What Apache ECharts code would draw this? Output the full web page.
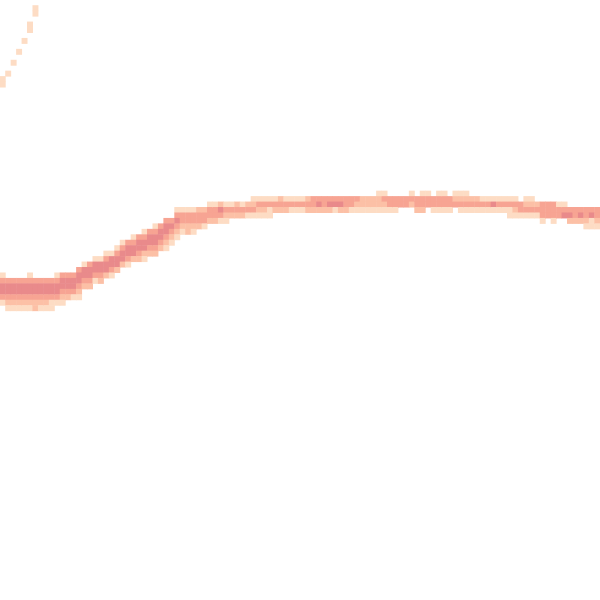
<!DOCTYPE html>
<html>
<head>
<meta charset="utf-8">
<script src="https://cdn.jsdelivr.net/npm/echarts@6/dist/echarts.min.js"></script>
<style>html,body{margin:0;padding:0;background:#fff}#c{width:600px;height:600px}</style>
</head>
<body>
<div id="c"></div>
<script>
// grid size (cells per side)
var gridSize = 110;
// main band: per column, the top row index and the cell levels going down (0 = empty)
var bandTop = [50,51,51,51,51,50,51,51,51,51,50,50,50,50,49,48,48,47,47,46,46,45,44,44,43,43,42,42,41,41,40,40,38,38,38,38,38,38,37,37,37,37,37,37,37,37,36,36,36,36,36,36,36,36,36,36,36,36,36,36,36,36,36,36,36,36,36,36,36,35,35,36,36,36,36,35,36,35,35,36,35,35,36,35,35,35,36,36,36,36,36,36,36,36,36,37,36,36,37,37,37,37,37,37,38,38,38,38,38,38];
var bandLevels = ["134431","344321","344321","344321","344321","1344321","344322","344321","344321","344311","134431","344321","34432","34431","344321","14432","34432","14431","14432","13442","14431","13442","13442","34431","13442","34432","134421","34432","134432","34432","344321","34321","134321","13321","13322","13321","2332","2331","1332","1332","2431","1321","132","232","132","231","1231","1321","1321","1311","132","232","132","131","131","131","232","332","342","332","342","341","342","332","331","321","221","221","221","1221","1321","331","331","33","33","132","332","1332","133","331","1331","1331","331","123","1231","1231","231","231","131","131","141","131","131","1311","1321","331","1231","1231","231","3331","333","3331","133","134","342","332","342","3321","3411","3321"];
// faint arc in the top-left corner
var arcCols = [0,1,2,3,4,5,6];
var arcTop = [14,13,11,9,7,4,1];
var arcLevels = ["11","1","1","1","1","11","11"];
var levelColors = ["#fddcc4","#fcc0a6","#f7a493","#e98a8b"];

var cells = [];
function addCells(cols, tops, levels) {
  for (var i = 0; i < cols.length; i++) {
    var s = levels[i];
    for (var k = 0; k < s.length; k++) {
      var v = +s.charAt(k);
      if (v > 0) cells.push([cols[i], tops[i] + k, v]);
    }
  }
}
var bandCols = [];
for (var i = 0; i < bandTop.length; i++) bandCols.push(i);
addCells(bandCols, bandTop, bandLevels);
addCells(arcCols, arcTop, arcLevels);

var cats = [];
for (var i = 0; i < gridSize; i++) cats.push(String(i));

var chart = echarts.init(document.getElementById('c'), null, {renderer: 'canvas'});
chart.setOption({
  animation: false,
  backgroundColor: '#ffffff',
  grid: {left: 0, right: 0, top: 0, bottom: 0},
  xAxis: {type: 'category', data: cats, show: false},
  yAxis: {type: 'category', data: cats, inverse: true, show: false},
  visualMap: {type: 'continuous', show: false, min: 1, max: 4, dimension: 2, inRange: {color: levelColors}},
  series: [{type: 'heatmap', data: cells, itemStyle: {borderWidth: 0}, emphasis: {disabled: true}}]
});
</script>
</body>
</html>
